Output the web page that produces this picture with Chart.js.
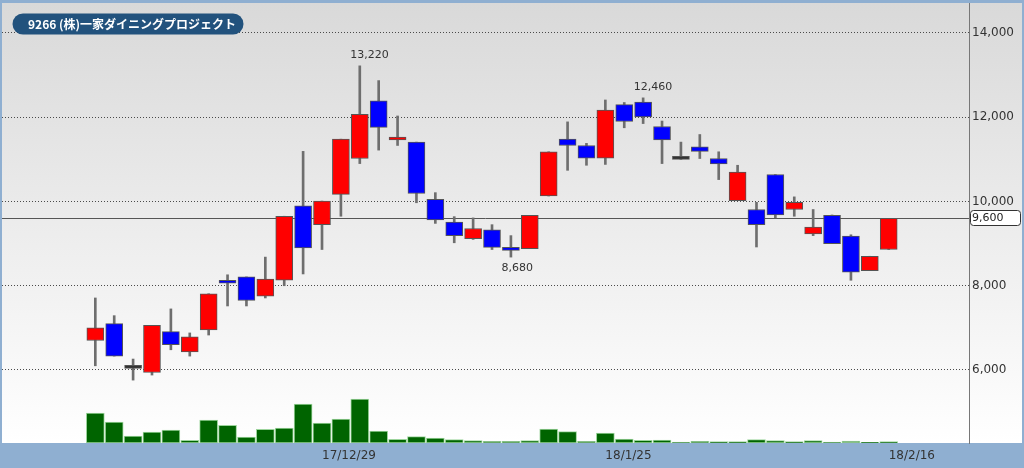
<!DOCTYPE html>
<html>
<head>
<meta charset="utf-8">
<script src="https://cdn.jsdelivr.net/npm/chart.js@4"></script>
<style>
  html, body { margin: 0; padding: 0; background: #8fafd1; }
</style>
</head>
<body>
<canvas id="candles" width="1024" height="468"></canvas>
<script>
const title = '9266 (株)一家ダイニングプロジェクト';

const dates = [
  '17/12/13', '17/12/14', '17/12/15', '17/12/18', '17/12/19', '17/12/20', '17/12/21', '17/12/22',
  '17/12/25', '17/12/26', '17/12/27', '17/12/28', '17/12/29',
  '18/1/4', '18/1/5', '18/1/9', '18/1/10', '18/1/11', '18/1/12', '18/1/15', '18/1/16', '18/1/17',
  '18/1/18', '18/1/19', '18/1/22', '18/1/23', '18/1/24', '18/1/25', '18/1/26', '18/1/29', '18/1/30',
  '18/1/31', '18/2/1', '18/2/2', '18/2/5', '18/2/6', '18/2/7', '18/2/8', '18/2/9', '18/2/13',
  '18/2/14', '18/2/15', '18/2/16'
];
const opens = [6700, 7100, 6040, 5940, 6910, 6430, 6950, 8100, 8210, 7750, 8130, 9900, 9450, 10170, 11020,
  12390, 11460, 11410, 10050, 9510, 9120, 9330, 8870, 8880, 10130, 11480, 11330, 11030, 12300, 12360,
  11780, 11000, 11300, 11020, 10020, 9810, 10640, 9810, 9230, 9670, 9180, 8360, 8860];
const highs = [7710, 7290, 6260, 7060, 7450, 6880, 7810, 8260, 8210, 8680, 9650, 11190, 10010, 11480, 13220,
  12870, 12030, 11410, 10210, 9640, 9610, 9450, 9190, 9670, 11180, 11890, 11380, 12410, 12350, 12460,
  11910, 11410, 11590, 11180, 10860, 9980, 10640, 10110, 9810, 9680, 9210, 8700, 9600];
const lows = [6100, 6330, 5760, 5880, 6480, 6330, 6830, 7520, 7520, 7710, 8000, 8280, 8860, 9650, 10900,
  11220, 11330, 9970, 9480, 9020, 9100, 8860, 8680, 8880, 10130, 10740, 10860, 10880, 11750, 11850,
  10900, 11000, 11020, 10520, 10020, 8920, 9610, 9650, 9190, 9000, 8130, 8360, 8860];
const closes = [7000, 6330, 6040, 7060, 6600, 6790, 7810, 8060, 7650, 8160, 9650, 8900, 10010, 11480, 12070,
  11760, 11500, 10190, 9560, 9190, 9360, 8910, 8840, 9670, 11180, 11330, 11030, 12170, 11900, 12010,
  11460, 11000, 11190, 10890, 10700, 9450, 9680, 9980, 9390, 9000, 8320, 8700, 9600];
const volumes = [300, 210, 70, 110, 130, 26, 230, 176, 60, 136, 150, 390, 200, 240, 440, 120, 37, 63, 50, 33,
  23, 17, 17, 23, 140, 113, 17, 100, 40, 27, 30, 10, 17, 13, 13, 33, 23, 13, 23, 10, 20, 7, 13];

const dateTicks = ['17/12/29', '18/1/25', '18/2/16'];
const priceTicks = [6000, 8000, 10000, 12000, 14000];
const peakLabels = [
  { date: '18/1/5', value: 13220, side: 'above' },
  { date: '18/1/29', value: 12460, side: 'above' },
  { date: '18/1/18', value: 8680, side: 'below' }
];

const up = '#ff0000';
const down = '#0000ff';
const bodyColors = opens.map((o, i) => closes[i] > o ? up : closes[i] < o ? down : '#333333');
const numFont = 'DejaVu Sans';
const fmt = v => v.toLocaleString('en-US');

function roundRect(ctx, x, y, w, h, r) {
  ctx.beginPath();
  ctx.moveTo(x + r, y);
  ctx.arcTo(x + w, y, x + w, y + h, r);
  ctx.arcTo(x + w, y + h, x, y + h, r);
  ctx.arcTo(x, y + h, x, y, r);
  ctx.arcTo(x, y, x + w, y, r);
  ctx.closePath();
}

const frame = {
  id: 'frame',
  beforeDraw(chart) {
    const { ctx, chartArea: a, width, height } = chart;
    ctx.save();
    ctx.fillStyle = '#8fafd1';
    ctx.fillRect(0, 0, width, height);
    const g = ctx.createLinearGradient(0, a.top, 0, a.bottom);
    g.addColorStop(0, '#d9d9d9');
    g.addColorStop(1, '#ffffff');
    ctx.fillStyle = g;
    ctx.fillRect(a.left, a.top, width - 2 - a.left, a.bottom - a.top);
    ctx.restore();
  },
  beforeDatasetsDraw(chart) {
    // last price line
    const { ctx, chartArea: a, scales: { y } } = chart;
    const py = Math.round(y.getPixelForValue(closes[closes.length - 1])) + 0.5;
    ctx.save();
    ctx.strokeStyle = '#555';
    ctx.lineWidth = 1;
    ctx.beginPath();
    ctx.moveTo(a.left, py);
    ctx.lineTo(a.right, py);
    ctx.stroke();
    ctx.restore();
  },
  afterDatasetsDraw(chart) {
    const { ctx, scales: { x, y } } = chart;
    ctx.save();
    ctx.fillStyle = '#333';
    ctx.font = '11px "' + numFont + '"';
    ctx.textAlign = 'left';
    ctx.textBaseline = 'middle';
    peakLabels.forEach(p => {
      const px = x.getPixelForValue(dates.indexOf(p.date)) - 9.5;
      const py = y.getPixelForValue(p.value) + (p.side === 'above' ? -11 : 11);
      ctx.fillText(fmt(p.value), px, py);
    });
    ctx.restore();
  },
  afterDraw(chart) {
    const { ctx, chartArea: a, scales: { y }, width } = chart;
    ctx.save();
    // current price box
    const last = closes[closes.length - 1];
    const py = Math.round(y.getPixelForValue(last));
    roundRect(ctx, a.right + 1.5, py - 7.5, width - a.right - 5, 15, 3);
    ctx.fillStyle = '#fff';
    ctx.fill();
    ctx.strokeStyle = '#333';
    ctx.lineWidth = 1;
    ctx.stroke();
    ctx.fillStyle = '#222';
    ctx.font = '11px "' + numFont + '"';
    ctx.textBaseline = 'middle';
    ctx.fillText(fmt(last), a.right + 3, py + 0.5);
    // title badge
    roundRect(ctx, 12.5, 13.5, 231, 21, 10.5);
    ctx.fillStyle = '#22527d';
    ctx.fill();
    ctx.fillStyle = '#fff';
    ctx.font = 'bold 12px "Noto Sans CJK JP"';
    ctx.fillText(title, 28, 24.5);
    ctx.restore();
  }
};

new Chart(document.getElementById('candles').getContext('2d'), {
  type: 'bar',
  data: {
    datasets: [{
      label: 'body',
      data: dates.map((d, i) => ({ x: i, y: [opens[i], closes[i]] })),
      backgroundColor: bodyColors,
      borderColor: '#555',
      borderWidth: 1,
      borderSkipped: false,
      barThickness: 17,
      minBarLength: 3,
      grouped: false,
      order: 0,
      yAxisID: 'y'
    }, {
      label: 'wick',
      data: dates.map((d, i) => ({ x: i, y: [lows[i], highs[i]] })),
      backgroundColor: '#6e6e6e',
      borderWidth: 0,
      barThickness: 2,
      grouped: false,
      order: 1,
      yAxisID: 'y'
    }, {
      label: 'volume',
      data: dates.map((d, i) => ({ x: i, y: volumes[i] })),
      backgroundColor: '#006400',
      borderColor: '#9cd49c',
      borderWidth: 1,
      borderSkipped: false,
      barThickness: 18,
      grouped: false,
      order: 2,
      yAxisID: 'y2'
    }]
  },
  options: {
    responsive: false,
    animation: false,
    layout: { padding: { left: 2, top: 3, right: 2, bottom: 0 } },
    scales: {
      x: {
        type: 'linear',
        min: -4.94,
        max: 46.25,
        offset: false,
        grid: { display: false, drawTicks: false },
        border: { display: false },
        afterBuildTicks: s => { s.ticks = dateTicks.map(d => ({ value: dates.indexOf(d) })); },
        afterFit: s => { s.height = 25; s.paddingLeft = 0; s.paddingRight = 0; },
        ticks: {
          autoSkip: false,
          maxRotation: 0,
          align: 'start',
          padding: 6,
          color: '#333',
          font: { family: numFont, size: 12 },
          callback: v => dates[v]
        }
      },
      y: {
        position: 'right',
        min: 4267,
        max: 14712,
        afterBuildTicks: s => { s.ticks = priceTicks.map(v => ({ value: v })); },
        afterFit: s => { s.width = 53; s.paddingTop = 0; s.paddingBottom = 0; },
        grid: { color: '#4a4a4a', lineWidth: 1, drawTicks: false },
        border: { display: true, color: '#777', width: 1, dash: [1, 2] },
        ticks: {
          padding: 3,
          color: '#333',
          font: { family: numFont, size: 12 },
          callback: v => fmt(v)
        }
      },
      y2: {
        display: false,
        min: 0,
        max: 4400
      }
    },
    plugins: {
      legend: { display: false },
      tooltip: { enabled: false }
    }
  },
  plugins: [frame]
});
</script>
</body>
</html>
